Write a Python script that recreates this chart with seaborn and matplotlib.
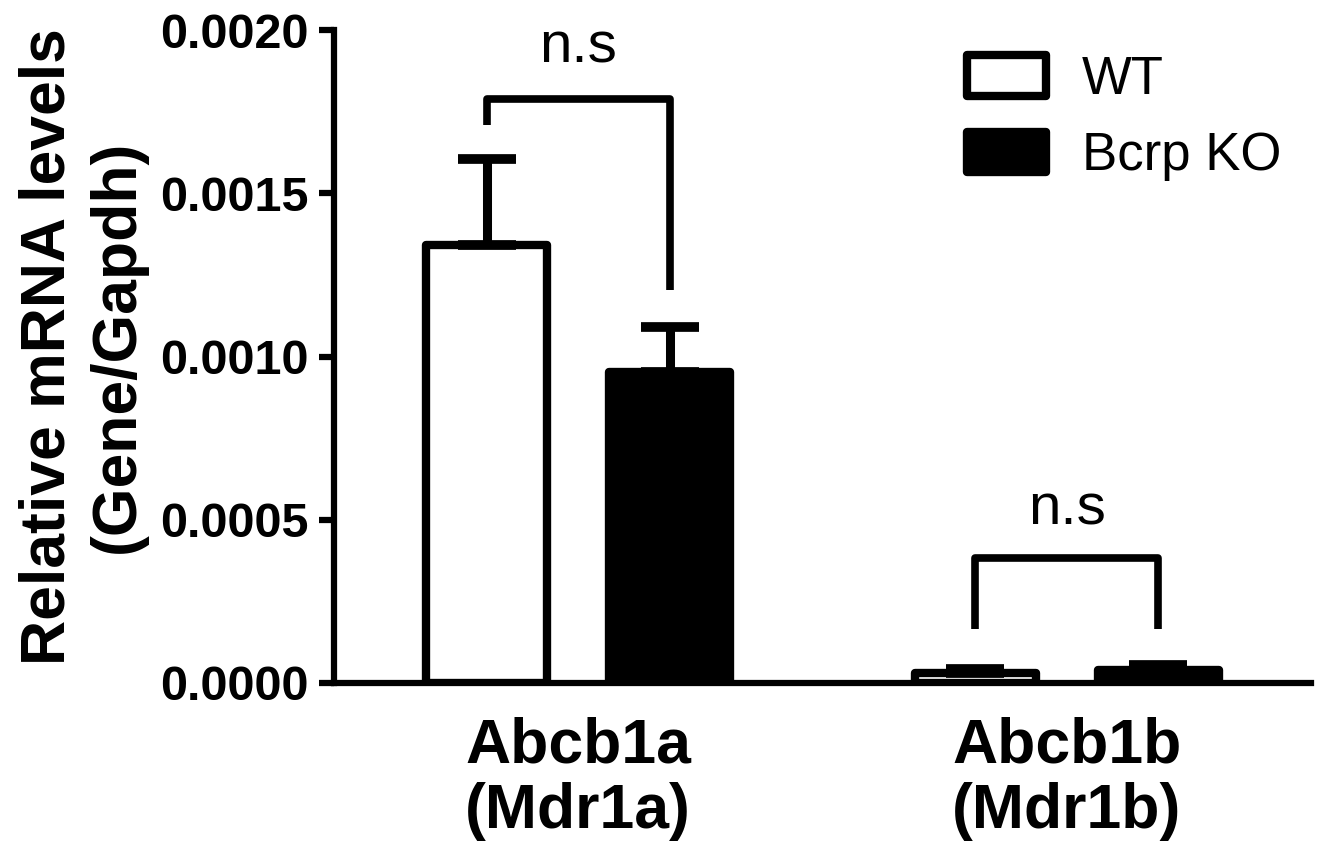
import numpy as np
import pandas as pd
import matplotlib
matplotlib.use("Agg")
import matplotlib.pyplot as plt
import seaborn as sns

# ---- data ----
genes = ["Abcb1a\n(Mdr1a)", "Abcb1b\n(Mdr1b)"]
groups = ["WT", "Bcrp KO"]
wt_mean = [0.001342, 0.0000321]
ko_mean = [0.000953, 0.0000383]
wt_sem = [0.000263, 0.000010]
ko_sem = [0.000137, 0.000017]
sig_labels = ["n.s", "n.s"]
bracket_top = [0.001789, 0.000383]
bracket_left_bottom = [0.001708, 0.000165]
bracket_right_bottom = [0.001203, 0.000165]
sig_label_y = [0.00190, 0.000484]
yticks = [0.0, 0.0005, 0.0010, 0.0015, 0.0020]
ytick_labels = ["0.0000", "0.0005", "0.0010", "0.0015", "0.0020"]
ylabel = "Relative mRNA levels\n(Gene/Gapdh)"

df = pd.DataFrame({
    "gene": genes * 2,
    "group": [groups[0]] * len(genes) + [groups[1]] * len(genes),
    "value": wt_mean + ko_mean,
})

sns.set_theme(style="ticks")
plt.rcParams["font.family"] = ["Liberation Sans", "DejaVu Sans"]
plt.rcParams.update({"text.color": "black", "axes.labelcolor": "black",
                     "xtick.color": "black", "ytick.color": "black",
                     "axes.edgecolor": "black"})

W, H = 1323, 851
fig = plt.figure(figsize=(W / 100, H / 100), dpi=100)
ax = fig.add_axes([334 / W, 1 - 683 / H, 977 / W, 653 / H])

sns.barplot(data=df, x="gene", y="value", hue="group", order=genes,
            hue_order=groups, palette={"WT": "white", "Bcrp KO": "black"},
            edgecolor="black", linewidth=6, width=0.751, gap=0.34,
            errorbar=None, saturation=1, legend=False, ax=ax)

centers = []
for container, sems in zip(ax.containers, [wt_sem, ko_sem]):
    xs = [p.get_x() + p.get_width() / 2 for p in container]
    ys = [p.get_height() for p in container]
    centers.append(xs)
    ax.errorbar(xs, ys, yerr=[np.zeros(len(sems)), sems], fmt="none",
                ecolor="black", elinewidth=6.5, capsize=21, capthick=7,
                zorder=3)
    for p in container:
        p.set_joinstyle("round")

for i in range(len(genes)):
    x1, x2 = centers[0][i], centers[1][i]
    ax.plot([x1, x1, x2, x2],
            [bracket_left_bottom[i], bracket_top[i], bracket_top[i], bracket_right_bottom[i]],
            color="black", lw=5.5, solid_capstyle="butt", solid_joinstyle="round",
            clip_on=False, zorder=3)
    ax.text((x1 + x2) / 2, sig_label_y[i], sig_labels[i], ha="center",
            va="baseline", fontsize=42, color="black")

ax.set_xlim(-0.5, 1.5)
ax.set_ylim(0, 0.002)
ax.set_yticks(yticks)
ax.set_yticklabels(ytick_labels, fontsize=35, fontweight="bold")
ax.set_xticks(range(len(genes)))
ax.set_xticklabels(genes, fontsize=45, fontweight="bold", linespacing=1.15)
ax.set_xlabel("")
ax.set_ylabel(ylabel, fontsize=45, fontweight="bold", linespacing=1.22)
ax.yaxis.set_label_coords(-0.192, 0.515)

sns.despine(ax=ax)
for s in ["left", "bottom"]:
    ax.spines[s].set_linewidth(4.5)
    ax.spines[s].set_color("black")
ax.tick_params(axis="y", length=11, width=4.5, direction="out", pad=7, color="black")
ax.tick_params(axis="x", length=0, pad=24)

leg = ax.legend(handles=list(ax.containers), labels=groups, loc="upper left",
                bbox_to_anchor=(0.648, 0.962), frameon=False, fontsize=38,
                handlelength=1.5, handleheight=0.8, handletextpad=0.68,
                labelspacing=0.5, borderpad=0, borderaxespad=0)
for h in leg.legend_handles:
    h.set_linewidth(6)
    h.set_edgecolor("black")
    h.set_joinstyle("round")

fig.savefig("out.png", dpi=100)
